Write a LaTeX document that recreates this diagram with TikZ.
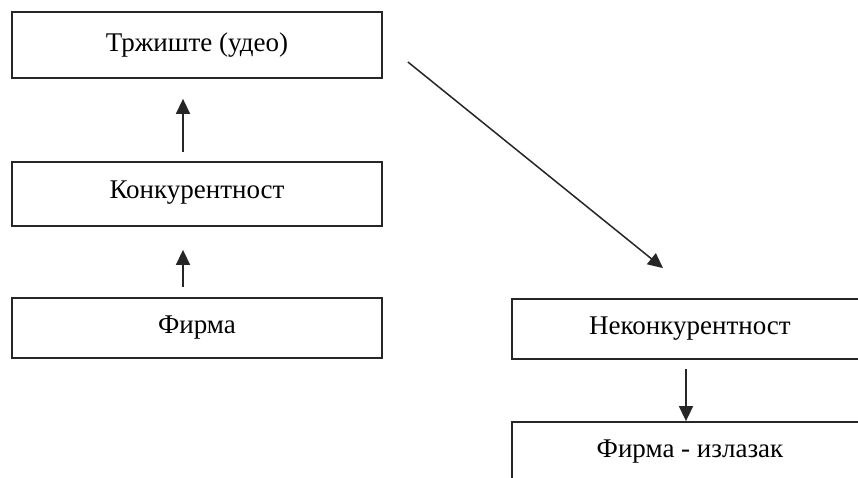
\documentclass[tikz,border=0pt]{standalone}
\usepackage{fontspec}
\setmainfont{Liberation Serif}
\usetikzlibrary{positioning,arrows.meta}
\tikzset {
    style box/.style={
        draw=black!85,
        line width=1.8pt,
        rectangle, % box around one text
        minimum width=370pt,
        minimum height=62pt,
        align=center,
        font=\fontsize{27}{31}\selectfont,
    },
    style arrow/.style={
        draw=black!85,
        line width=1.5pt,
        -{Triangle[length=15pt,width=14pt]},
    },
}

\begin{document}
\begin{tikzpicture}[x=1pt, y=-1pt]
    \clip (0,0) rectangle (858,477);
    \fill[white] (0,0) rectangle (858,477);
    % left column
    \node[style box, minimum height=66pt] (market) at (197,45) {\raisebox{4pt}{Тржиште (удео)}};
    \node[style box, minimum height=64pt] (compet) at (197,194) {\raisebox{8pt}{Конкурентност}};
    \node[style box, minimum height=60pt] (firm) at (197,328) {Фирма};
    % right column
    \node[style box, minimum width=356pt, minimum height=60pt] (noncompet) at (690,329) {\raisebox{3pt}{Неконкурентност}};
    \node[style box, minimum width=356pt, minimum height=60pt] (exit) at (690,452) {\raisebox{6pt}{Фирма - излазак}};
    % arrows
    \draw[style arrow, shorten <=9pt, shorten >=20pt] ([xshift=-14pt]compet.north) -- ([xshift=-14pt]market.south);
    \draw[style arrow, shorten <=10pt, shorten >=23pt] ([xshift=-14pt]firm.north) -- ([xshift=-14pt]compet.south);
    \draw[style arrow] ([xshift=25pt,yshift=-17pt]market.east) -- ([xshift=-27pt,yshift=30pt]noncompet.north);
    \draw[style arrow, shorten <=9pt] ([xshift=-4pt]noncompet.south) -- ([xshift=-4pt]exit.north);
\end{tikzpicture}
\end{document}
